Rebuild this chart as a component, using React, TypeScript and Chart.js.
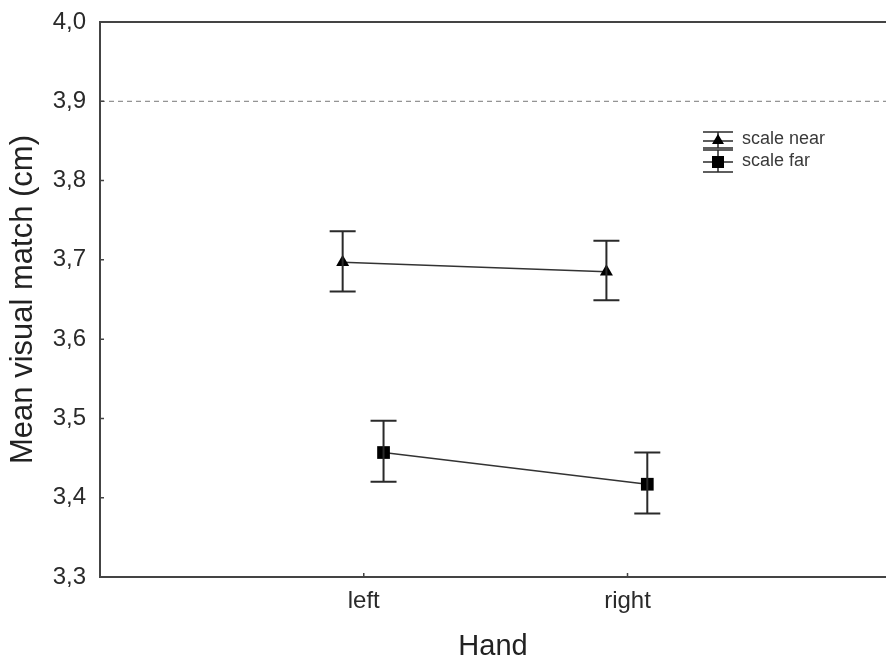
import React, { useEffect, useRef } from "react";
import { Chart, registerables } from "chart.js";

Chart.register(...registerables);

const categories = ["left", "right"];
const seriesLabels = ["scale near", "scale far"];
const nearMeans = [3.697, 3.685];
const nearLower = [3.660, 3.649];
const nearUpper = [3.736, 3.724];
const farMeans = [3.457, 3.417];
const farLower = [3.420, 3.380];
const farUpper = [3.497, 3.457];
const referenceLine = 3.9;
const yMin = 3.3;
const yMax = 4.0;
const yStep = 0.1;
const nearOffset = -0.08;
const farOffset = 0.075;

const INK = "#2a2a2a";
const AXIS = "#444";
const FONT = "'Liberation Sans', Arial, sans-serif";

const errorBarPlugin = {
  id: "errorBars",
  afterDatasetsDraw(chart: any) {
    const { ctx } = chart;
    const xs = chart.scales.x;
    const ys = chart.scales.y;
    chart.data.datasets.forEach((ds: any) => {
      ds.data.forEach((p: any) => {
        const x = xs.getPixelForValue(p.x);
        const yl = ys.getPixelForValue(p.lo);
        const yh = ys.getPixelForValue(p.hi);
        ctx.save();
        ctx.strokeStyle = INK;
        ctx.lineWidth = 2;
        ctx.beginPath();
        ctx.moveTo(x, yl);
        ctx.lineTo(x, yh);
        ctx.moveTo(x - 13, yl);
        ctx.lineTo(x + 13, yl);
        ctx.moveTo(x - 13, yh);
        ctx.lineTo(x + 13, yh);
        ctx.stroke();
        ctx.restore();
      });
    });
  },
};

const framePlugin = {
  id: "frame",
  beforeDatasetsDraw(chart: any) {
    const { ctx, chartArea } = chart;
    const ys = chart.scales.y;
    const xs = chart.scales.x;
    ctx.save();
    const yr = ys.getPixelForValue(referenceLine);
    ctx.strokeStyle = "#777";
    ctx.lineWidth = 1;
    ctx.setLineDash([5, 4]);
    ctx.beginPath();
    ctx.moveTo(chartArea.left, yr);
    ctx.lineTo(chartArea.right, yr);
    ctx.stroke();
    ctx.setLineDash([]);
    ctx.strokeStyle = AXIS;
    ctx.lineWidth = 2;
    ctx.beginPath();
    ctx.moveTo(chartArea.left, chartArea.top);
    ctx.lineTo(chartArea.right, chartArea.top);
    ctx.stroke();
    ctx.lineWidth = 1.5;
    ctx.beginPath();
    ys.ticks.forEach((t: any) => {
      const y = ys.getPixelForValue(t.value);
      ctx.moveTo(chartArea.left, y);
      ctx.lineTo(chartArea.left + 4, y);
    });
    xs.ticks.forEach((t: any) => {
      const x = xs.getPixelForValue(t.value);
      ctx.moveTo(x, chartArea.bottom);
      ctx.lineTo(x, chartArea.bottom - 4);
    });
    ctx.stroke();
    ctx.restore();
  },
  afterDraw(chart: any) {
    const { ctx } = chart;
    const lx = 718;
    const rows = [
      { y: 140, style: "triangle", top: 132, bottom: 148 },
      { y: 162, style: "rect", top: 150, bottom: 172 },
    ];
    ctx.save();
    rows.forEach((r, i) => {
      ctx.strokeStyle = INK;
      ctx.lineWidth = 1.5;
      ctx.beginPath();
      ctx.moveTo(lx, r.top);
      ctx.lineTo(lx, r.bottom);
      ctx.moveTo(lx - 15, r.top);
      ctx.lineTo(lx + 15, r.top);
      ctx.moveTo(lx - 15, r.bottom);
      ctx.lineTo(lx + 15, r.bottom);
      ctx.moveTo(lx - 15, r.y + (i === 0 ? 1 : 0));
      ctx.lineTo(lx + 15, r.y + (i === 0 ? 1 : 0));
      ctx.stroke();
      ctx.fillStyle = "#000";
      ctx.beginPath();
      if (r.style === "triangle") {
        ctx.moveTo(lx, r.y - 6);
        ctx.lineTo(lx + 6, r.y + 4);
        ctx.lineTo(lx - 6, r.y + 4);
        ctx.closePath();
      } else {
        ctx.rect(lx - 6, r.y - 6, 12, 12);
      }
      ctx.fill();
      ctx.fillStyle = "#3a3a3a";
      ctx.font = `18px ${FONT}`;
      ctx.textBaseline = "middle";
      ctx.textAlign = "left";
      ctx.fillText(seriesLabels[i], 742, r.y - 1);
    });
    ctx.restore();
  },
};

const zeroPad = (scale: any) => {
  scale.paddingTop = 0;
  scale.paddingBottom = 0;
  scale.paddingLeft = 0;
  scale.paddingRight = 0;
};

export default function App() {
  const ref = useRef<HTMLCanvasElement | null>(null);
  useEffect(() => {
    if (!ref.current) return;
    const near = categories.map((_, i) => ({
      x: i + 1 + nearOffset,
      y: nearMeans[i],
      lo: nearLower[i],
      hi: nearUpper[i],
    }));
    const far = categories.map((_, i) => ({
      x: i + 1 + farOffset,
      y: farMeans[i],
      lo: farLower[i],
      hi: farUpper[i],
    }));
    const chart = new Chart(ref.current, {
      type: "scatter",
      data: {
        datasets: [
          {
            label: seriesLabels[0],
            data: near as any,
            showLine: true,
            borderColor: "#333",
            borderWidth: 1.5,
            backgroundColor: "#000",
            pointBackgroundColor: "#000",
            pointBorderColor: "#000",
            pointStyle: "triangle",
            pointRadius: 7.5,
            pointBorderWidth: 0,
          },
          {
            label: seriesLabels[1],
            data: far as any,
            showLine: true,
            borderColor: "#333",
            borderWidth: 1.5,
            backgroundColor: "#000",
            pointBackgroundColor: "#000",
            pointBorderColor: "#000",
            pointStyle: "rect",
            pointRadius: 9,
            pointBorderWidth: 0,
          },
        ],
      },
      options: {
        animation: false,
        responsive: false,
        devicePixelRatio: 1,
        layout: { autoPadding: false, padding: { top: 22, left: 0, right: 0, bottom: 0 } },
        plugins: {
          legend: { display: false },
          tooltip: { enabled: false },
        },
        scales: {
          x: {
            type: "linear",
            min: 0,
            max: 2.98,
            afterBuildTicks: (scale: any) => {
              scale.ticks = categories.map((_, i) => ({ value: i + 1 }));
            },
            afterFit: (scale: any) => {
              scale.height = 83;
              zeroPad(scale);
            },
            grid: { display: false, drawTicks: false },
            border: { display: true, color: AXIS, width: 2 },
            ticks: {
              autoSkip: false,
              maxRotation: 0,
              padding: 10,
              color: "#2a2a2a",
              font: { family: FONT, size: 24 },
              callback: (v: any) => categories[Math.round(Number(v)) - 1] ?? "",
            },
            title: {
              display: true,
              text: "Hand",
              color: "#222",
              font: { family: FONT, size: 29, lineHeight: 0.93 },
              padding: { top: 0, bottom: 0 },
            },
          },
          y: {
            min: yMin,
            max: yMax,
            afterFit: (scale: any) => {
              scale.width = 100;
              zeroPad(scale);
            },
            grid: { display: false, drawTicks: false },
            border: { display: true, color: AXIS, width: 2 },
            ticks: {
              stepSize: yStep,
              padding: 14,
              color: "#2a2a2a",
              font: { family: FONT, size: 24 },
              callback: (v: any) => Number(v).toFixed(1).replace(".", ","),
            },
            title: {
              display: true,
              text: "Mean visual match (cm)",
              color: "#222",
              font: { family: FONT, size: 31, lineHeight: 1.2 },
              padding: { top: 5, bottom: 0 },
            },
          },
        },
      },
      plugins: [framePlugin, errorBarPlugin],
    });
    return () => chart.destroy();
  }, []);
  return (
    <div style={{ position: "absolute", left: 0, top: 0, width: 886, height: 660, overflow: "hidden", background: "#fff" }}>
      <canvas ref={ref} width={886} height={660} />
    </div>
  );
}
